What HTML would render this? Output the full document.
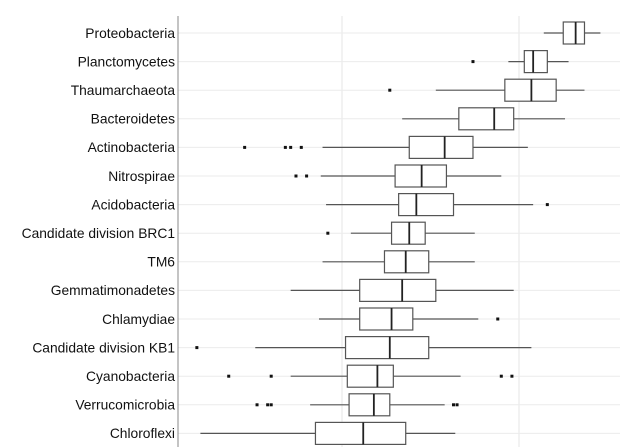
<!DOCTYPE html>
<html><head><meta charset="utf-8"><style>
body{margin:0;background:#fff;}
svg{display:block;font-family:"Liberation Sans",sans-serif;}
</style></head><body>
<svg id="chart" width="640" height="447"></svg>
<script>
const categories=["Proteobacteria","Planctomycetes","Thaumarchaeota","Bacteroidetes","Actinobacteria","Nitrospirae","Acidobacteria","Candidate division BRC1","TM6","Gemmatimonadetes","Chlamydiae","Candidate division KB1","Cyanobacteria","Verrucomicrobia","Chloroflexi"];
const whiskerLow=[2.14,1.94,1.53,1.34,0.89,0.88,0.91,1.05,0.89,0.71,0.87,0.51,0.71,0.82,0.20];
const q1=[2.25,2.03,1.92,1.66,1.38,1.30,1.32,1.28,1.24,1.10,1.10,1.02,1.03,1.04,0.85];
const medians=[2.32,2.08,2.07,1.86,1.58,1.45,1.42,1.38,1.36,1.34,1.28,1.27,1.20,1.18,1.12];
const q3=[2.37,2.16,2.21,1.97,1.74,1.59,1.63,1.47,1.49,1.53,1.40,1.49,1.29,1.27,1.36];
const whiskerHigh=[2.46,2.28,2.37,2.26,2.05,1.90,2.08,1.75,1.75,1.97,1.77,2.07,1.67,1.58,1.64];
const outliers=[[],[1.74],[1.27],[],[0.45,0.68,0.71,0.77],[0.74,0.80],[2.16],[0.92],[],[],[1.88],[0.18],[0.36,0.60,1.90,1.96],[0.52,0.58,0.60,1.63,1.65],[]];
const gridTicks=[1,2];

const NS="http://www.w3.org/2000/svg";
const svg=document.getElementById("chart");
const x=v=>342+(v-1)*177;
const y=i=>33+i*28.6;
function mk(tag,attrs,parent){const e=document.createElementNS(NS,tag);for(const k in attrs)e.setAttribute(k,attrs[k]);(parent||svg).appendChild(e);return e;}
gridTicks.forEach(t=>{
  const g=mk("line",{x1:x(t),x2:x(t),y1:16,y2:447,stroke:"#e6e6e6","stroke-width":1});
  
  
});
categories.forEach((c,i)=>{
  const yy=y(i);
  const gl=mk("line",{x1:178,x2:620,y1:yy,y2:yy,stroke:"#ebebeb","stroke-width":1});
  
  
  const t=mk("text",{x:175,y:yy+4.8,"text-anchor":"end","font-size":"13.8",fill:"#111"});
  t.textContent=c;
  
  
  const g=mk("g",{});
  
  
  mk("line",{x1:x(whiskerLow[i]),x2:x(q1[i]),y1:yy,y2:yy,stroke:"#555","stroke-width":1.2},g);
  mk("line",{x1:x(q3[i]),x2:x(whiskerHigh[i]),y1:yy,y2:yy,stroke:"#555","stroke-width":1.2},g);
  mk("rect",{x:x(q1[i]),y:yy-11,width:x(q3[i])-x(q1[i]),height:22,fill:"#fff",stroke:"#555","stroke-width":1.2},g);
  mk("line",{x1:x(medians[i]),x2:x(medians[i]),y1:yy-11,y2:yy+11,stroke:"#222","stroke-width":1.8},g);
  outliers[i].forEach(o=>{
    const p=mk("rect",{x:x(o)-1.5,y:yy-1.5,width:3,height:3,fill:"#111"},g);
    
    
  });
});
const ax=mk("line",{x1:178,x2:178,y1:16,y2:447,stroke:"#888","stroke-width":1});


</script>
</body></html>
